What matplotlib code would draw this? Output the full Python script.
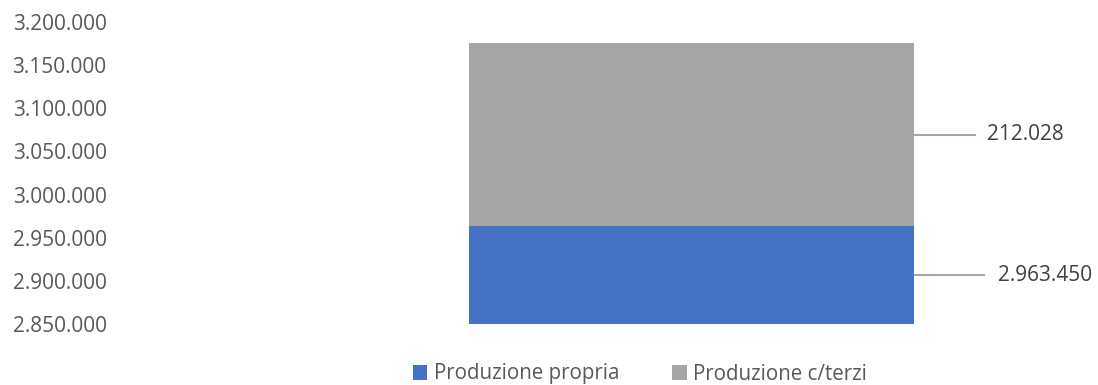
import numpy as np
import matplotlib
matplotlib.use("Agg")
import matplotlib.pyplot as plt
from matplotlib.ticker import FuncFormatter

plt.rc('font', family=['Open Sans', 'DejaVu Sans'])

categories = ['']
series = ['Produzione propria', 'Produzione c/terzi']
values = [2963450, 212028]
colors = ['#4472C4', '#A5A5A5']
ymin, ymax, ystep = 2850000, 3200000, 50000

W, H = 1098, 385
fig = plt.figure(figsize=(W/100., H/100.), dpi=100)
# axes placed in pixel units of the reference
left, right, bottom, top = 115, 1090, 385-324, 385-22
ax = fig.add_axes([left/W, bottom/H, (right-left)/W, (top-bottom)/H])

barpx = 445.  # bar width in pixels
cpx = 691.5
ax.set_xlim(-(cpx-left)/barpx, (right-cpx)/barpx)
ax.set_ylim(ymin, ymax)

def fmt(v):
	return '{:,.0f}'.format(v).replace(',', '.')

base = ymin
x = np.arange(len(categories))
lines_len = [70, 61]
text_off = [84, 73]
for k in range(len(series)):
	lo = base if k > 0 else ymin
	h = values[k] if k > 0 else values[k]-ymin
	ax.bar(x, h, bottom=lo, width=1.0, color=colors[k], label=series[k], zorder=2)
	mid = lo + h/2.
	x0 = 0.5
	x1 = 0.5 + lines_len[k]/barpx
	ax.plot([x0, x1], [mid, mid], color='#A6A6A6', lw=1.5, zorder=1)
	ax.text(0.5 + text_off[k]/barpx, mid, fmt(values[k]), ha='left', va='center',
		fontsize=15, color='#404040', clip_on=False)
	base = lo + h

ax.set_yticks(np.arange(ymin, ymax+1, ystep))
ax.yaxis.set_major_formatter(FuncFormatter(lambda v, p: fmt(v)))
ax.tick_params(axis='y', length=0, pad=6, labelsize=15, labelcolor='#595959')
ax.set_xticks([])
for s in ax.spines.values():
	s.set_visible(False)

leg = fig.legend(loc='center', bbox_to_anchor=(640./W, 11./H), ncol=2, frameon=False,
	fontsize=14.8, handlelength=0.7, handleheight=0.7, handletextpad=0.3,
	columnspacing=2.6, labelcolor='#595959')

plt.savefig('out.png', dpi=100)
